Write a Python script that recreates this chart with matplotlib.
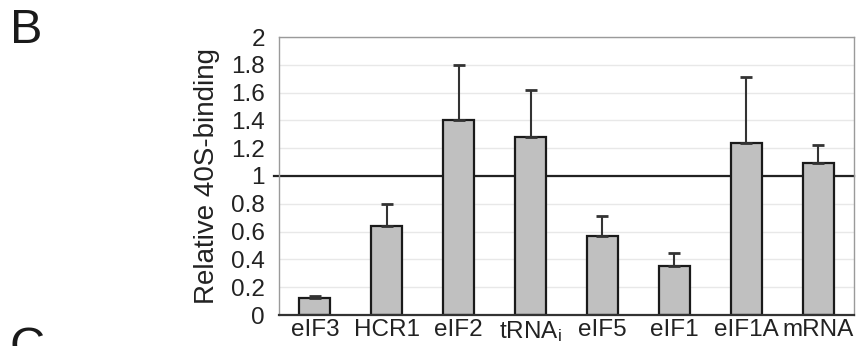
import matplotlib
matplotlib.use("Agg")
import matplotlib.pyplot as plt
import numpy as np

plt.rcParams['font.family'] = ['Liberation Sans', 'DejaVu Sans']
plt.rcParams['mathtext.fontset'] = 'custom'
plt.rcParams['mathtext.rm'] = 'Liberation Sans'
plt.rcParams['mathtext.it'] = 'Liberation Sans'

categories = ["eIF3", "HCR1", "eIF2", "tRNA$_\\mathrm{i}$", "eIF5", "eIF1", "eIF1A", "mRNA"]
values = [0.12, 0.64, 1.40, 1.28, 0.57, 0.35, 1.24, 1.09]
errors = [0.017, 0.16, 0.40, 0.34, 0.14, 0.095, 0.475, 0.13]
yticks = [0, 0.2, 0.4, 0.6, 0.8, 1, 1.2, 1.4, 1.6, 1.8, 2]
yticklabels = ["0", "0.2", "0.4", "0.6", "0.8", "1", "1.2", "1.4", "1.6", "1.8", "2"]

fig = plt.figure(figsize=(8.56, 3.46), dpi=100)
ax = fig.add_axes([279/856, 1-315/346, (854-279)/856, (315-37)/346])

x = np.arange(len(categories))
ax.set_xlim(-0.5, len(categories) - 0.5)
ax.set_ylim(0, 2)

for yv in yticks[1:]:
    ax.axhline(yv, color='#e8e8e8', lw=1, zorder=0)

ax.plot([-0.57, len(categories) - 0.5], [1, 1], color='#222222', lw=1.6, zorder=1, clip_on=False)

ax.bar(x, values, width=0.43, color='#c0c0c0', edgecolor='#1a1a1a', linewidth=1.6, zorder=2)
ax.errorbar(x, values, yerr=[np.zeros(len(values)), errors], fmt='none',
            ecolor='#333333', elinewidth=1.5, capsize=4, capthick=2, zorder=3)

ax.set_yticks(yticks)
ax.set_yticklabels(yticklabels, fontsize=17.5, color='#222222')
ax.set_xticks(x)
ax.set_xticklabels(categories, fontsize=17.5, color='#222222')
ax.tick_params(axis='y', length=0, pad=10)
ax.tick_params(axis='x', length=0, pad=3)

for s in ['left', 'top', 'right']:
    ax.spines[s].set_color('#9a9a9a')
    ax.spines[s].set_linewidth(1.0)
ax.spines['bottom'].set_color('#333333')
ax.spines['bottom'].set_linewidth(1.6)

ax.set_ylabel("Relative 40S-binding", fontsize=20, color='#222222', labelpad=8)

fig.text(10/856, 1-8/346, "B", fontsize=35, va='top', ha='left', color='#1a1a1a')
fig.text(10/856, 1-326/346, "C", fontsize=35, va='top', ha='left', color='#1a1a1a')

fig.savefig("out.png", dpi=100)
